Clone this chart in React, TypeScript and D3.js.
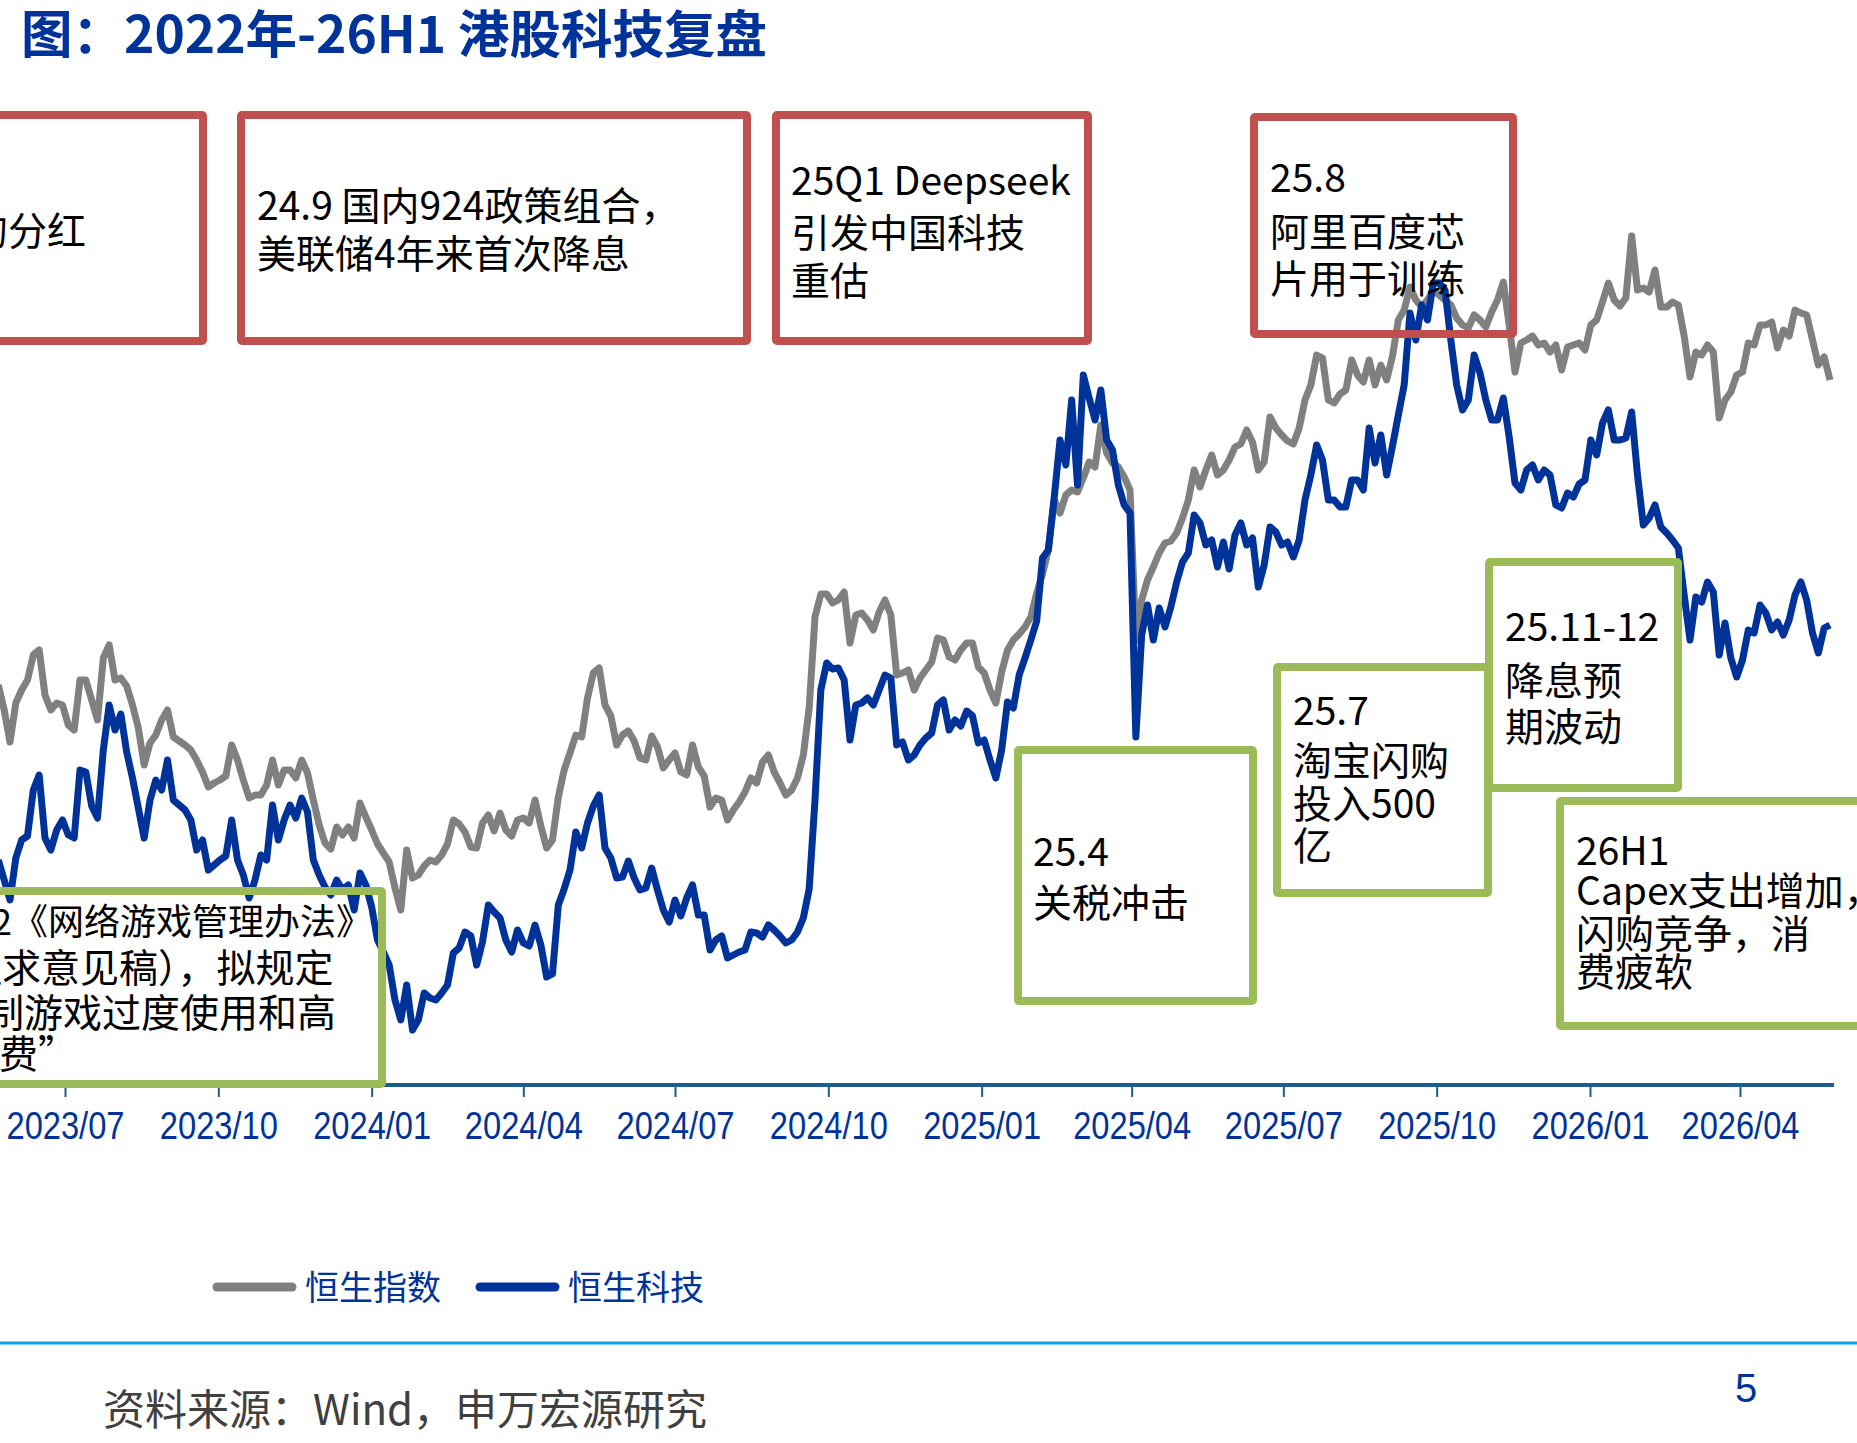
import React, { useEffect, useRef } from 'react';
import * as d3 from 'd3';

const WIDTH = 1857;
const HEIGHT = 1443;

// twice-weekly closes (every 3.5 days), first one on 2023-05-22
const seriesStart = new Date(2023, 4, 22);
const stepHours = 84;

const hsiCloses = [
  18300, 17800, 17160, 17940, 18200, 18400, 18900, 19000, 18100, 17800,
  17940, 17900, 17500, 17400, 18400, 18400, 18000, 17600, 18840, 19100,
  18400, 18440, 18280, 17900, 17440, 16700, 17140, 17300, 17600, 17800,
  17260, 17180, 17100, 17000, 16800, 16560, 16260, 16340, 16400, 16480,
  17100, 16800, 16400, 16040, 16100, 16100, 16300, 16800, 16300, 16600,
  16600, 16440, 16800, 16540, 16000, 15500, 15140, 15020, 15460, 15300,
  15460, 15240, 15940, 15660, 15400, 15120, 14940, 14760, 14240, 13800,
  15000, 14440, 14500, 14680, 14800, 14760, 14900, 15120, 15600, 15520,
  15360, 15060, 15040, 15540, 15700, 15380, 15740, 15400, 15280, 15600,
  15640, 15540, 16000, 15480, 15040, 15200, 16060, 16600, 16940, 17300,
  17260, 18040, 18540, 18640, 17900, 17680, 17100, 17300, 17380, 17180,
  16840, 16800, 17280, 17060, 16640, 16800, 16940, 16560, 16500, 17100,
  16660, 16480, 15860, 16040, 16000, 15600, 15800, 15960, 16160, 16440,
  16340, 16760, 16900, 16560, 16340, 16100, 16200, 16440, 16900, 17840,
  19660, 20120, 20120, 19940, 20000, 20160, 19140, 19700, 19740, 19600,
  19400, 19760, 20000, 19700, 18500, 18540, 18600, 18200, 18440, 18600,
  18760, 19240, 19200, 18860, 18800, 19000, 19140, 19140, 18660, 18540,
  18200, 17940, 18560, 19000, 19200, 19320, 19460, 19660, 20140, 20520,
  21000, 22000, 21740, 22100, 22200, 22160, 22440, 22760, 22660, 23500,
  22940, 22740, 22660, 22460, 22200, 19200, 20000, 20400, 20660, 20940,
  21140, 21180, 21340, 21640, 22000, 22600, 22260, 22600, 22900, 22500,
  22600, 22800, 23060, 23120, 23400, 23160, 22600, 22760, 23660, 23440,
  23300, 23180, 23120, 23440, 24000, 24300, 24900, 24840, 24000, 23940,
  24120, 24200, 24800, 24500, 24360, 24800, 24300, 24700, 24400, 24880,
  25600, 25800, 26260, 26000, 25860, 26000, 26200, 26100, 26000, 25900,
  25640, 25500, 25440, 25700, 25600, 25460, 25760, 26000, 26360, 25500,
  24560, 25140, 25200, 25280, 25100, 25140, 24960, 25100, 24600, 25060,
  25100, 25140, 25000, 25500, 25600, 25960, 26340, 26000, 25880, 26040,
  27280, 26200, 26240, 26160, 26600, 25860, 25860, 25960, 25900, 25280,
  24460, 24960, 24900, 25100, 24960, 23640, 24000, 24160, 24500, 24560,
  25140, 25100, 25500, 25500, 25560, 25040, 25400, 25280, 25800, 25740,
  25700, 25200, 24700, 24860, 24400
];

const hstechCloses = [
  3700, 3600, 3500, 3710, 3800, 3820, 4050, 4125, 3810, 3750,
  3850, 3900, 3825, 3810, 4150, 4140, 3970, 3910, 4250, 4475,
  4350, 4430, 4240, 4110, 3960, 3810, 4000, 4100, 4050, 4200,
  4000, 3975, 3950, 3900, 3750, 3800, 3650, 3675, 3700, 3720,
  3900, 3700, 3625, 3510, 3600, 3725, 3700, 3975, 3800, 3900,
  3975, 3910, 4010, 3940, 3700, 3625, 3565, 3525, 3600, 3550,
  3575, 3450, 3635, 3575, 3465, 3300, 3240, 3175, 3000, 2900,
  3075, 2850, 2900, 3035, 3010, 3000, 3035, 3075, 3235, 3260,
  3340, 3320, 3175, 3290, 3475, 3440, 3410, 3300, 3240, 3350,
  3285, 3270, 3375, 3275, 3115, 3130, 3475, 3555, 3650, 3840,
  3760, 3885, 3970, 4025, 3760, 3710, 3610, 3615, 3695, 3610,
  3550, 3560, 3660, 3550, 3450, 3390, 3500, 3420, 3510, 3575,
  3425, 3425, 3250, 3300, 3320, 3210, 3225, 3240, 3250, 3340,
  3335, 3315, 3375, 3350, 3320, 3285, 3300, 3340, 3410, 3555,
  4000, 4550, 4685, 4655, 4660, 4600, 4300, 4475, 4485, 4510,
  4475, 4550, 4625, 4610, 4275, 4290, 4200, 4225, 4275, 4310,
  4335, 4475, 4500, 4350, 4400, 4370, 4445, 4420, 4285, 4300,
  4200, 4110, 4250, 4490, 4460, 4625, 4710, 4800, 4895, 5210,
  5250, 5510, 5800, 5675, 6000, 5575, 6125, 6010, 5900, 6050,
  5800, 5750, 5575, 5475, 5435, 4315, 4825, 4975, 4800, 4960,
  4865, 4965, 5090, 5190, 5235, 5425, 5385, 5275, 5300, 5165,
  5290, 5155, 5325, 5385, 5275, 5310, 5065, 5175, 5365, 5340,
  5275, 5290, 5215, 5300, 5500, 5625, 5775, 5700, 5500, 5500,
  5465, 5465, 5600, 5600, 5550, 5860, 5685, 5825, 5625, 5770,
  5925, 6075, 6435, 6300, 6475, 6400, 6585, 6585, 6550, 6300,
  6075, 5950, 6000, 6225, 6135, 6000, 5900, 5900, 6010, 5815,
  5585, 5550, 5650, 5675, 5600, 5650, 5625, 5475, 5460, 5535,
  5515, 5580, 5600, 5800, 5725, 5885, 5950, 5800, 5800, 5810,
  5940, 5625, 5375, 5410, 5475, 5365, 5335, 5300, 5260, 5025,
  4800, 5015, 4990, 5090, 5040, 4725, 4885, 4710, 4615, 4700,
  4850, 4835, 4975, 4935, 4850, 4890, 4825, 4900, 5025, 5090,
  5000, 4835, 4735, 4860, 4875
];

const tickLabels = [
  '2023/07', '2023/10', '2024/01', '2024/04', '2024/07', '2024/10',
  '2025/01', '2025/04', '2025/07', '2025/10', '2026/01', '2026/04'
];

const seriesNames = ['恒生指数', '恒生科技'];

const titleText = '图：2022年-26H1 港股科技复盘';
const sourceText = '资料来源：Wind，申万宏源研究';
const pageNumber = '5';

// event notes: red = tailwinds, green = headwinds
const redNotes = [
  ['的分红'],
  ['24.9 国内924政策组合，', '美联储4年来首次降息'],
  ['25Q1 Deepseek', '引发中国科技', '重估'],
  ['25.8', '阿里百度芯', '片用于训练']
];
const greenNotes = [
  ['23.12《网络游戏管理办法》', '（征求意见稿），拟规定', '“限制游戏过度使用和高', '额消费”'],
  ['25.4', '关税冲击'],
  ['25.7', '淘宝闪购', '投入500', '亿'],
  ['25.11-12', '降息预', '期波动'],
  ['26H1', 'Capex支出增加，', '闪购竞争，消', '费疲软']
];

// box frames (outer edges) and text placement
type NoteLayout = { x0: number; x1: number; y0: number; y1: number; tx: number[]; ty: number[]; fs?: number[] };

const redLayout: NoteLayout[] = [
  { x0: -20, x1: 207, y0: 111, y1: 345, tx: [-31], ty: [245] },
  { x0: 237, x1: 751, y0: 111, y1: 345, tx: [257, 257], ty: [220, 268] },
  { x0: 772, x1: 1092, y0: 111, y1: 345, tx: [791, 791, 791], ty: [195, 247, 295] },
  { x0: 1250, x1: 1517, y0: 113, y1: 338, tx: [1270, 1270, 1270], ty: [192, 246, 293] }
];
const greenLayout: NoteLayout[] = [
  { x0: -20, x1: 386, y0: 887, y1: 1088, tx: [-78, -76, -93, -79], ty: [935, 982, 1027, 1068], fs: [36, 39, 39, 39] },
  { x0: 1014, x1: 1257, y0: 746, y1: 1005, tx: [1033, 1033], ty: [866, 917] },
  { x0: 1273, x1: 1492, y0: 663, y1: 897, tx: [1293, 1293, 1293, 1293], ty: [725, 775, 818, 860] },
  { x0: 1485, x1: 1682, y0: 558, y1: 792, tx: [1505, 1505, 1505], ty: [641, 695, 741] },
  { x0: 1556, x1: 1900, y0: 797, y1: 1030, tx: [1576, 1576, 1576, 1576], ty: [865, 905, 948, 986] }
];

const CJK = "'Noto Sans CJK SC', 'Noto Sans', sans-serif";
const BLUE = '#003399';
const GRAY = '#808080';
const RED = '#C0504D';
const GREEN = '#9BBB59';
const AXIS = '#1F5C87';

export default function App() {
  const svgRef = useRef<SVGSVGElement>(null);

  useEffect(() => {
    const svg = d3.select(svgRef.current);
    svg.selectAll('*').remove();

    const parseTick = d3.timeParse('%Y/%m');
    const tickDates = tickLabels.map(t => parseTick(t) as Date);
    const dates = hsiCloses.map((_, i) => d3.timeHour.offset(seriesStart, i * stepHours));

    const x = d3.scaleTime()
      .domain([tickDates[0], tickDates[tickDates.length - 1]])
      .range([65, 1740]);
    // two hidden value axes, one per index
    const yHsi = d3.scaleLinear().domain([32000, 12000]).range([0, 1000]);
    const yTech = d3.scaleLinear().domain([8000, 3000]).range([0, 1000]);

    const axisY = 1085;

    // Title //
    svg.append('text')
      .attr('x', 21)
      .attr('y', 53)
      .attr('font-family', CJK)
      .attr('font-weight', 700)
      .attr('font-size', 51.5)
      .attr('fill', BLUE)
      .text(titleText);

    // Lines //
    const hsiLine = d3.line<number>()
      .x((_, i) => x(dates[i]))
      .y(d => yHsi(d));
    const techLine = d3.line<number>()
      .x((_, i) => x(dates[i]))
      .y(d => yTech(d));

    svg.append('path')
      .datum(hsiCloses)
      .attr('fill', 'none')
      .attr('stroke', GRAY)
      .attr('stroke-width', 7)
      .attr('stroke-linejoin', 'round')
      .attr('d', hsiLine);

    svg.append('path')
      .datum(hstechCloses)
      .attr('fill', 'none')
      .attr('stroke', BLUE)
      .attr('stroke-width', 7)
      .attr('stroke-linejoin', 'round')
      .attr('d', techLine);

    // Axis //
    svg.append('line')
      .attr('x1', 0)
      .attr('x2', x(dates[dates.length - 1]) + 4)
      .attr('y1', axisY)
      .attr('y2', axisY)
      .attr('stroke', AXIS)
      .attr('stroke-width', 4);

    const xAxis = d3.axisBottom(x)
      .tickValues(tickDates)
      .tickSize(12)
      .tickSizeOuter(0)
      .tickPadding(15)
      .tickFormat((d, i) => tickLabels[i]);

    const xAxisGroup = svg.append('g')
      .attr('transform', `translate(0, ${axisY})`)
      .call(xAxis);
    xAxisGroup.select('.domain').remove();
    xAxisGroup.selectAll('line')
      .attr('stroke', AXIS)
      .attr('stroke-width', 2);
    xAxisGroup.selectAll('text')
      .attr('fill', BLUE)
      .attr('font-family', "'Liberation Sans', Arial, sans-serif")
      .attr('font-size', 38)
      .attr('textLength', 118)
      .attr('lengthAdjust', 'spacingAndGlyphs');

    // Note boxes //
    const drawNotes = (notes: string[][], layout: NoteLayout[], color: string) => {
      notes.forEach((lines, k) => {
        const b = layout[k];
        svg.append('rect')
          .attr('x', b.x0 + 4)
          .attr('y', b.y0 + 4)
          .attr('width', b.x1 - b.x0 - 8)
          .attr('height', b.y1 - b.y0 - 8)
          .attr('fill', 'none')
          .attr('stroke', color)
          .attr('stroke-width', 8)
          .attr('rx', 1);
        lines.forEach((line, j) => {
          svg.append('text')
            .attr('x', b.tx[j])
            .attr('y', b.ty[j])
            .attr('font-family', CJK)
            .attr('font-size', b.fs ? b.fs[j] : 39)
            .attr('fill', '#000')
            .text(line);
        });
      });
    };
    drawNotes(redNotes, redLayout, RED);
    drawNotes(greenNotes, greenLayout, GREEN);

    // Legend //
    const legend = [
      { name: seriesNames[0], color: GRAY, x: 217 },
      { name: seriesNames[1], color: BLUE, x: 480 }
    ];
    legend.forEach(l => {
      svg.append('line')
        .attr('x1', l.x)
        .attr('x2', l.x + 75)
        .attr('y1', 1287)
        .attr('y2', 1287)
        .attr('stroke', l.color)
        .attr('stroke-width', 9)
        .attr('stroke-linecap', 'round');
      svg.append('text')
        .attr('x', l.x + 88)
        .attr('y', 1300)
        .attr('font-family', CJK)
        .attr('font-size', 34)
        .attr('fill', BLUE)
        .text(l.name);
    });

    // Footer //
    svg.append('line')
      .attr('x1', 0)
      .attr('x2', WIDTH)
      .attr('y1', 1343)
      .attr('y2', 1343)
      .attr('stroke', '#10A3DF')
      .attr('stroke-width', 3);

    svg.append('text')
      .attr('x', 103)
      .attr('y', 1425)
      .attr('font-family', CJK)
      .attr('font-size', 42)
      .attr('fill', '#404040')
      .text(sourceText);

    svg.append('text')
      .attr('x', 1735)
      .attr('y', 1402)
      .attr('font-family', "'Liberation Sans', Arial, sans-serif")
      .attr('font-size', 40)
      .attr('fill', BLUE)
      .text(pageNumber);
  }, []);

  return (
    <div style={{ position: 'absolute', left: 0, top: 0 }}>
      <svg ref={svgRef} width={WIDTH} height={HEIGHT} style={{ display: 'block', background: '#fff' }} />
    </div>
  );
}
